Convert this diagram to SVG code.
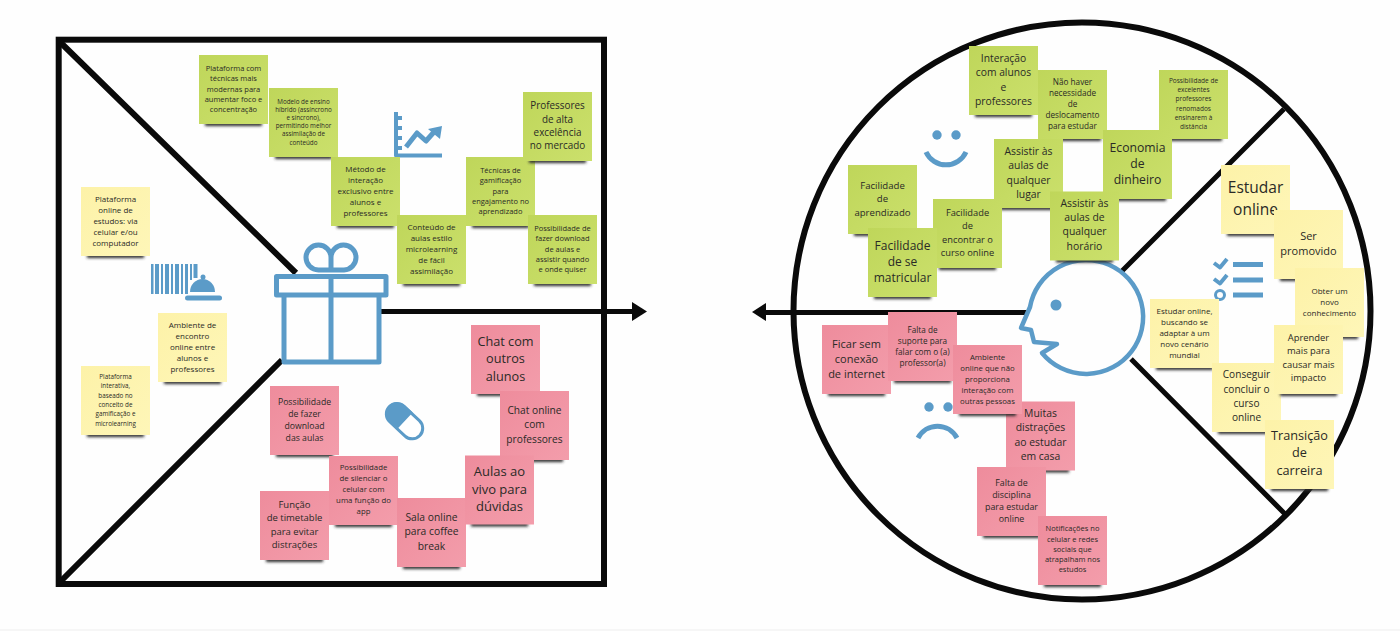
<svg xmlns="http://www.w3.org/2000/svg" width="1400" height="631" viewBox="0 0 1400 631">
<style>
text{font-family:"Open Sans","Noto Sans","Liberation Sans",sans-serif;text-anchor:middle;fill:#2a2a26}
.g{fill:url(#gg)}.y{fill:url(#gy)}.p{fill:url(#gp)}
.frame{fill:none;stroke:#0a0a0a;stroke-width:6}
.line{fill:none;stroke:#0a0a0a;stroke-width:5}
.thin{fill:none;stroke:#0a0a0a;stroke-width:5}
.head{fill:#0a0a0a}
.ic{fill:none;stroke:#5b9bc8;stroke-width:5;stroke-linejoin:round}
.if{fill:#5b9bc8}
</style>
<defs>
<linearGradient id="gg" x1="0" y1="0" x2="1" y2="1"><stop offset="0" stop-color="#bfd65a"/><stop offset="1" stop-color="#cbe06c"/></linearGradient>
<linearGradient id="gy" x1="0" y1="0" x2="1" y2="1"><stop offset="0" stop-color="#fdf2a8"/><stop offset="1" stop-color="#fef6b8"/></linearGradient>
<linearGradient id="gp" x1="0" y1="0" x2="1" y2="1"><stop offset="0" stop-color="#ee8c9c"/><stop offset="1" stop-color="#f39dab"/></linearGradient>
<filter id="bl" x="-20%" y="-150%" width="140%" height="400%"><feGaussianBlur stdDeviation="1.600"/></filter>
<g id="sh"><rect x="6" y="67" width="57" height="4" fill="#2a2a2a" filter="url(#bl)"/></g>
<rect id="n" width="69" height="69"/>
</defs>
<rect width="1400" height="631" fill="#fefefe"/>
<rect y="629" width="1400" height="2" fill="#f6f6f6"/>

<g id="canvas-frames">
<rect class="frame" x="58.700" y="39.700" width="545.300" height="544.300"/>
<circle class="frame" cx="1082" cy="311" r="288.500"/>
</g>

<g id="connectors">
<path class="frame" d="M60 42L296 273M58 584L282 360"/>
<path class="line" d="M381 311.500H634"/>
<path class="head" d="M647 311.500L632 302V321Z"/>
<path class="line" d="M1028 312.500H764"/>
<path class="head" d="M752 312L766 303V321Z"/>
<path class="thin" d="M1284 109L1122 271M1131 359L1285 514"/>
</g>

<g id="icon-gift" class="ic">
<path d="M276.500 276.500H386V295H276.500ZM284 295V362H379V295M331 276.500V362"/>
<path d="M331 270H318.500A12.500 12.500 0 1 1 331 257.500V270H344A12.500 12.500 0 1 0 331 257.500"/>
</g>
<g id="icon-service" class="if">
<path d="M151 264h2.500v30h-2.500zM155 264h4v30h-4zM161 264h2v30h-2zM165 264h4v30h-4zM171 264h2v30h-2zM175 264h4v30h-4zM181 264h2v30h-2zM185 264h3v30h-3zM190 264h2v16h-2zM193.500 264h4v14h-4z"/>
<path d="M190 292a12.500 13 0 0 1 25 0Z"/><circle cx="203" cy="277" r="2.500"/>
<rect x="185" y="295.500" width="37" height="5" rx="2.500"/>
</g>
<g id="icon-chart">
<path class="ic" style="stroke-width:4" d="M396 112V155.500H442M396 118h6M396 128h6M396 138h6M396 148h6"/>
<path class="ic" d="M406 147L417 133L426 141L434 132"/>
<path class="if" d="M442 126L428 129L440 139Z"/>
</g>
<g id="icon-pill" transform="rotate(43 404.500 420.500)">
<rect x="384" y="410.500" width="42" height="21" rx="10.500" fill="#fff" stroke="#5b9bc8" stroke-width="3"/>
<path class="if" d="M405 409H394.500a11.500 11.500 0 0 0 0 23H405Z"/>
</g>
<g id="icon-smile"><circle class="if" cx="937" cy="135" r="4.700"/><circle class="if" cx="956" cy="135" r="4.700"/><path class="ic" d="M926 152A22 22 0 0 0 966 152"/></g>
<g id="icon-frown"><circle class="if" cx="929" cy="407" r="4.700"/><circle class="if" cx="948" cy="407" r="4.700"/><path class="ic" d="M918 438A22 22 0 0 1 957 438"/></g>
<g id="icon-list">
<path class="ic" style="stroke-width:4" d="M1214 263L1220 267.500L1227 259M1214 279L1220 283.500L1227 275"/>
<circle cx="1220" cy="295" r="4.500" fill="none" stroke="#5b9bc8" stroke-width="3"/>
<path class="ic" d="M1233 264.500H1263M1233 280H1263M1233 295H1263"/>
</g>
<g id="icon-face">
<path class="ic" d="M1042 353A57 57 0 1 0 1030 307L1021 328L1031 330L1034 342L1057 344Z" style="stroke-width:4.500"/>
<circle class="if" cx="1056" cy="305" r="5.500"/>
</g>

<g id="n-plat-online" transform="translate(81 187)"><use href="#sh"/><use href="#n" class="y"/><text font-size="8" y="14.800"><tspan x="34.500">Plataforma</tspan><tspan x="34.500" dy="11">online de</tspan><tspan x="34.500" dy="11">estudos: via</tspan><tspan x="34.500" dy="11">celular e/ou</tspan><tspan x="34.500" dy="11">computador</tspan></text></g>
<g id="n-ambiente-encontro" transform="translate(158 313)"><use href="#sh"/><use href="#n" class="y"/><text font-size="8" y="14.800"><tspan x="34.500">Ambiente de</tspan><tspan x="34.500" dy="11">encontro</tspan><tspan x="34.500" dy="11">online entre</tspan><tspan x="34.500" dy="11">alunos e</tspan><tspan x="34.500" dy="11">professores</tspan></text></g>
<g id="n-plat-interativa" transform="translate(81 366)"><use href="#sh"/><use href="#n" class="y"/><text font-size="6.300" y="13"><tspan x="34.500">Plataforma</tspan><tspan x="34.500" dy="9.300">interativa,</tspan><tspan x="34.500" dy="9.300">baseado no</tspan><tspan x="34.500" dy="9.300">conceito de</tspan><tspan x="34.500" dy="9.300">gamificação e</tspan><tspan x="34.500" dy="9.300">microlearning</tspan></text></g>

<g id="n-plat-tecnicas" transform="translate(199 55)"><use href="#sh"/><use href="#n" class="g"/><text font-size="7.500" y="16"><tspan x="34.500">Plataforma com</tspan><tspan x="34.500" dy="10.300">técnicas mais</tspan><tspan x="34.500" dy="10.300">modernas para</tspan><tspan x="34.500" dy="10.300">aumentar foco e</tspan><tspan x="34.500" dy="10.300">concentração</tspan></text></g>
<g id="n-modelo" transform="translate(269 88)"><use href="#sh"/><use href="#n" class="g"/><text font-size="6.300" y="15.600"><tspan x="34.500">Modelo de ensino</tspan><tspan x="34.500" dy="8.200">híbrido (assíncrono</tspan><tspan x="34.500" dy="8.200">e síncrono),</tspan><tspan x="34.500" dy="8.200">permitindo melhor</tspan><tspan x="34.500" dy="8.200">assimilação de</tspan><tspan x="34.500" dy="8.200">conteúdo</tspan></text></g>
<g id="n-metodo" transform="translate(331 157)"><use href="#sh"/><use href="#n" class="g"/><text font-size="8" y="14.800"><tspan x="34.500">Método de</tspan><tspan x="34.500" dy="11">interação</tspan><tspan x="34.500" dy="11">exclusivo entre</tspan><tspan x="34.500" dy="11">alunos e</tspan><tspan x="34.500" dy="11">professores</tspan></text></g>
<g id="n-tecnicas" transform="translate(466 157)"><use href="#sh"/><use href="#n" class="g"/><text font-size="7.500" y="16"><tspan x="34.500">Técnicas de</tspan><tspan x="34.500" dy="10.300">gamificação</tspan><tspan x="34.500" dy="10.300">para</tspan><tspan x="34.500" dy="10.300">engajamento no</tspan><tspan x="34.500" dy="10.300">aprendizado</tspan></text></g>
<g id="n-conteudo" transform="translate(397 215)"><use href="#sh"/><use href="#n" class="g"/><text font-size="8" y="14.800"><tspan x="34.500">Conteúdo de</tspan><tspan x="34.500" dy="11">aulas estilo</tspan><tspan x="34.500" dy="11">microlearning</tspan><tspan x="34.500" dy="11">de fácil</tspan><tspan x="34.500" dy="11">assimilação</tspan></text></g>
<g id="n-professores" transform="translate(523 92)"><use href="#sh"/><use href="#n" class="g"/><text font-size="9.900" y="17.200"><tspan x="34.500">Professores</tspan><tspan x="34.500" dy="13.300">de alta</tspan><tspan x="34.500" dy="13.300">excelência</tspan><tspan x="34.500" dy="13.300">no mercado</tspan></text></g>
<g id="n-download" transform="translate(528 215)"><use href="#sh"/><use href="#n" class="g"/><text font-size="7.500" y="16"><tspan x="34.500">Possibilidade de</tspan><tspan x="34.500" dy="10.300">fazer download</tspan><tspan x="34.500" dy="10.300">de aulas e</tspan><tspan x="34.500" dy="10.300">assistir quando</tspan><tspan x="34.500" dy="10.300">e onde quiser</tspan></text></g>

<g id="n-fazer-download" transform="translate(270 386)"><use href="#sh"/><use href="#n" class="p"/><text font-size="8.700" y="18.700"><tspan x="34.500">Possibilidade</tspan><tspan x="34.500" dy="12">de fazer</tspan><tspan x="34.500" dy="12">download</tspan><tspan x="34.500" dy="12">das aulas</tspan></text></g>
<g id="n-funcao" transform="translate(260 491)"><use href="#sh"/><use href="#n" class="p"/><text font-size="9.500" y="17"><tspan x="34.500">Função</tspan><tspan x="34.500" dy="13.300">de timetable</tspan><tspan x="34.500" dy="13.300">para evitar</tspan><tspan x="34.500" dy="13.300">distrações</tspan></text></g>
<g id="n-silenciar" transform="translate(329 456)"><use href="#sh"/><use href="#n" class="p"/><text font-size="7.800" y="13.800"><tspan x="34.500">Possibilidade</tspan><tspan x="34.500" dy="11">de silenciar o</tspan><tspan x="34.500" dy="11">celular com</tspan><tspan x="34.500" dy="11">uma função do</tspan><tspan x="34.500" dy="11">app</tspan></text></g>
<g id="n-sala" transform="translate(397 498)"><use href="#sh"/><use href="#n" class="p"/><text font-size="10.300" y="23"><tspan x="34.500">Sala online</tspan><tspan x="34.500" dy="14.300">para coffee</tspan><tspan x="34.500" dy="14.300">break</tspan></text></g>
<g id="n-chat-alunos" transform="translate(471 325)"><use href="#sh"/><use href="#n" class="p"/><text font-size="12.700" y="20.700"><tspan x="34.500">Chat com</tspan><tspan x="34.500" dy="17.500">outros</tspan><tspan x="34.500" dy="17.500">alunos</tspan></text></g>
<g id="n-chat-prof" transform="translate(500 391)"><use href="#sh"/><use href="#n" class="p"/><text font-size="10.200" y="22.700"><tspan x="34.500">Chat online</tspan><tspan x="34.500" dy="14.600">com</tspan><tspan x="34.500" dy="14.600">professores</tspan></text></g>
<g id="n-aulas" transform="translate(465 455.500)"><use href="#sh"/><use href="#n" class="p"/><text font-size="13" y="20.700"><tspan x="34.500">Aulas ao</tspan><tspan x="34.500" dy="17.500">vivo para</tspan><tspan x="34.500" dy="17.500">dúvidas</tspan></text></g>

<g id="n-interacao" transform="translate(969 46)"><use href="#sh"/><use href="#n" class="g"/><text font-size="10.300" y="15.600"><tspan x="34.500">Interação</tspan><tspan x="34.500" dy="14.600">com alunos</tspan><tspan x="34.500" dy="14.600">e</tspan><tspan x="34.500" dy="14.600">professores</tspan></text></g>
<g id="n-deslocamento" transform="translate(1038 70)"><use href="#sh"/><use href="#n" class="g"/><text font-size="8.200" y="14.500"><tspan x="34.500">Não haver</tspan><tspan x="34.500" dy="11">necessidade</tspan><tspan x="34.500" dy="11">de</tspan><tspan x="34.500" dy="11">deslocamento</tspan><tspan x="34.500" dy="11">para estudar</tspan></text></g>
<g id="n-excelentes" transform="translate(1159 70)"><use href="#sh"/><use href="#n" class="g"/><text font-size="6.500" y="13"><tspan x="34.500">Possibilidade de</tspan><tspan x="34.500" dy="9.200">excelentes</tspan><tspan x="34.500" dy="9.200">professores</tspan><tspan x="34.500" dy="9.200">renomados</tspan><tspan x="34.500" dy="9.200">ensinarem à</tspan><tspan x="34.500" dy="9.200">distância</tspan></text></g>
<g id="n-economia" transform="translate(1103 130)"><use href="#sh"/><use href="#n" class="g"/><text font-size="12.200" y="21.500"><tspan x="34.500">Economia</tspan><tspan x="34.500" dy="16.300">de</tspan><tspan x="34.500" dy="16.300">dinheiro</tspan></text></g>
<g id="n-lugar" transform="translate(994 139)"><use href="#sh"/><use href="#n" class="g"/><text font-size="10.400" y="16"><tspan x="34.500">Assistir às</tspan><tspan x="34.500" dy="14.300">aulas de</tspan><tspan x="34.500" dy="14.300">qualquer</tspan><tspan x="34.500" dy="14.300">lugar</tspan></text></g>
<g id="n-horario" transform="translate(1050 191.500)"><use href="#sh"/><use href="#n" class="g"/><text font-size="10.400" y="15.300"><tspan x="34.500">Assistir às</tspan><tspan x="34.500" dy="14.300">aulas de</tspan><tspan x="34.500" dy="14.300">qualquer</tspan><tspan x="34.500" dy="14.300">horário</tspan></text></g>
<g id="n-aprendizado" transform="translate(848 165)"><use href="#sh"/><use href="#n" class="g"/><text font-size="9.600" y="23.800"><tspan x="34.500">Facilidade</tspan><tspan x="34.500" dy="13.500">de</tspan><tspan x="34.500" dy="13.500">aprendizado</tspan></text></g>
<g id="n-encontrar" transform="translate(933 199)"><use href="#sh"/><use href="#n" class="g"/><text font-size="9.300" y="17"><tspan x="34.500">Facilidade</tspan><tspan x="34.500" dy="13.300">de</tspan><tspan x="34.500" dy="13.300">encontrar o</tspan><tspan x="34.500" dy="13.300">curso online</tspan></text></g>
<g id="n-matricular" transform="translate(868 228)"><use href="#sh"/><use href="#n" class="g"/><text font-size="12" y="21.700"><tspan x="34.500">Facilidade</tspan><tspan x="34.500" dy="16.300">de se</tspan><tspan x="34.500" dy="16.300">matricular</tspan></text></g>

<g id="n-estudar" transform="translate(1221 165)"><use href="#sh"/><use href="#n" class="y"/><text font-size="15.500" y="28"><tspan x="34.500">Estudar</tspan><tspan x="34.500" dy="21.700">online</tspan></text></g>
<g id="n-promovido" transform="translate(1274 210)"><use href="#sh"/><use href="#n" class="y"/><text font-size="11" y="29.500"><tspan x="34.500">Ser</tspan><tspan x="34.500" dy="15">promovido</tspan></text></g>
<g id="n-conhecimento" transform="translate(1295 268)"><use href="#sh"/><use href="#n" class="y"/><text font-size="8" y="25.500"><tspan x="34.500">Obter um</tspan><tspan x="34.500" dy="11">novo</tspan><tspan x="34.500" dy="11">conhecimento</tspan></text></g>
<g id="n-adaptar" transform="translate(1150 299)"><use href="#sh"/><use href="#n" class="y"/><text font-size="8" y="14.500"><tspan x="34.500">Estudar online,</tspan><tspan x="34.500" dy="11">buscando se</tspan><tspan x="34.500" dy="11">adaptar à um</tspan><tspan x="34.500" dy="11">novo cenário</tspan><tspan x="34.500" dy="11">mundial</tspan></text></g>
<g id="n-conseguir" transform="translate(1212 363)"><use href="#sh"/><use href="#n" class="y"/><text font-size="10.100" y="15.300"><tspan x="34.500">Conseguir</tspan><tspan x="34.500" dy="14.300">concluir o</tspan><tspan x="34.500" dy="14.300">curso</tspan><tspan x="34.500" dy="14.300">online</tspan></text></g>
<g id="n-impacto" transform="translate(1274 325)"><use href="#sh"/><use href="#n" class="y"/><text font-size="9.400" y="16"><tspan x="34.500">Aprender</tspan><tspan x="34.500" dy="13.300">mais para</tspan><tspan x="34.500" dy="13.300">causar mais</tspan><tspan x="34.500" dy="13.300">impacto</tspan></text></g>
<g id="n-transicao" transform="translate(1265 420)"><use href="#sh"/><use href="#n" class="y"/><text font-size="12.700" y="20"><tspan x="34.500">Transição</tspan><tspan x="34.500" dy="17.300">de</tspan><tspan x="34.500" dy="17.300">carreira</tspan></text></g>

<g id="n-conexao" transform="translate(822 325)"><use href="#sh"/><use href="#n" class="p"/><text font-size="11" y="22.500"><tspan x="34.500">Ficar sem</tspan><tspan x="34.500" dy="15">conexão</tspan><tspan x="34.500" dy="15">de internet</tspan></text></g>
<g id="n-suporte" transform="translate(888 312)"><use href="#sh"/><use href="#n" class="p"/><text font-size="8.200" y="20.700"><tspan x="34.500">Falta de</tspan><tspan x="34.500" dy="11">suporte para</tspan><tspan x="34.500" dy="11">falar com o (a)</tspan><tspan x="34.500" dy="11">professor(a)</tspan></text></g>
<g id="n-distracoes" transform="translate(1006 401.500)"><use href="#sh"/><use href="#n" class="p"/><text font-size="10.400" y="15.600"><tspan x="34.500">Muitas</tspan><tspan x="34.500" dy="14.300">distrações</tspan><tspan x="34.500" dy="14.300">ao estudar</tspan><tspan x="34.500" dy="14.300">em casa</tspan></text></g>
<g id="n-ambiente-online" transform="translate(953 345)"><use href="#sh"/><use href="#n" class="p"/><text font-size="7.800" y="14.500"><tspan x="34.500">Ambiente</tspan><tspan x="34.500" dy="11">online que não</tspan><tspan x="34.500" dy="11">proporciona</tspan><tspan x="34.500" dy="11">interação com</tspan><tspan x="34.500" dy="11">outras pessoas</tspan></text></g>
<g id="n-disciplina" transform="translate(977 467)"><use href="#sh"/><use href="#n" class="p"/><text font-size="8.900" y="18.700"><tspan x="34.500">Falta de</tspan><tspan x="34.500" dy="12">disciplina</tspan><tspan x="34.500" dy="12">para estudar</tspan><tspan x="34.500" dy="12">online</tspan></text></g>
<g id="n-notificacoes" transform="translate(1038 516)"><use href="#sh"/><use href="#n" class="p"/><text font-size="7.500" y="15.300"><tspan x="34.500">Notificações no</tspan><tspan x="34.500" dy="10.200">celular e redes</tspan><tspan x="34.500" dy="10.200">sociais que</tspan><tspan x="34.500" dy="10.200">atrapalham nos</tspan><tspan x="34.500" dy="10.200">estudos</tspan></text></g>
</svg>
